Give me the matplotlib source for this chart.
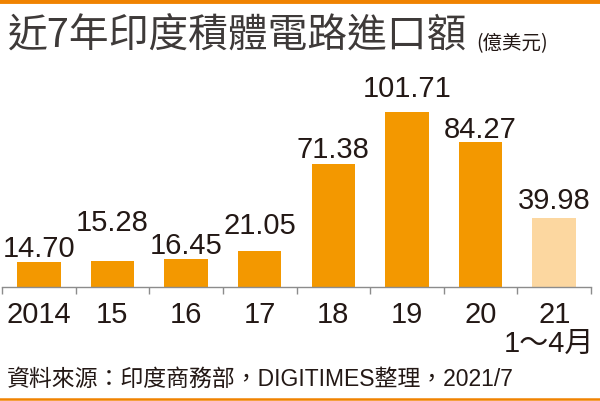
import matplotlib.pyplot as plt
from matplotlib.lines import Line2D

years = ["2014", "15", "16", "17", "18", "19", "20", "21"]
values = [14.70, 15.28, 16.45, 21.05, 71.38, 101.71, 84.27, 39.98]
sub_label = "1～4月"

title = "近7年印度積體電路進口額"
unit = "(億美元)"
source = "資料來源：印度商務部，DIGITIMES整理，2021/7"

ORANGE = "#F39800"
LIGHT = "#FCD7A0"
LINE = "#F08300"
TXT = "#231815"

# label gap above each bar, in points (staggered like the original)
label_gap = [4, 22, 4, 13, 5, 11, 3, 7]

latin = ["Liberation Sans", "Noto Sans CJK TC"]
cjk = ["Noto Sans CJK TC", "DejaVu Sans"]

fig = plt.figure(figsize=(6, 4.02), dpi=100)
ax = fig.add_axes([2 / 600, 0.2836, 589 / 600, 0.515])

colors = [ORANGE] * (len(values) - 1) + [LIGHT]
x = range(len(values))
ax.bar(x, values, width=0.59, color=colors, zorder=2)

for i, v in enumerate(values):
    ax.annotate(f"{v:.2f}", (i, v), xytext=(0, label_gap[i]), textcoords="offset points",
                ha="center", va="baseline", fontsize=21, family=latin, color=TXT)

ax.set_xlim(-0.5, len(values) - 0.5)
ax.set_ylim(0, 120)
ax.set_yticks([])
for s in ["top", "right", "left"]:
    ax.spines[s].set_visible(False)
ax.spines["bottom"].set_color("#8c8c8c")
ax.spines["bottom"].set_linewidth(1.0)

ax.set_xticks([i - 0.5 for i in range(len(values) + 1)])
ax.set_xticklabels([])
ax.tick_params(axis="x", length=5, width=1.0, color="#8c8c8c", direction="out")

for i, lab in enumerate(years):
    ax.text(i, -0.065, lab, transform=ax.get_xaxis_transform(), ha="center", va="top",
            fontsize=21, family=latin, color=TXT)
ax.text(len(values) - 1.07, -0.2, sub_label, transform=ax.get_xaxis_transform(),
        ha="center", va="top", fontsize=21, family=latin, color=TXT)

# title and source
fig.text(8 / 600, 1 - 37 / 402, title, ha="left", va="center", fontsize=28.6,
         fontweight="medium", family=cjk, color="#3E3A39")
fig.text(476 / 600, 1 - 44 / 402, unit, ha="left", va="center", fontsize=14,
         family=cjk, color=TXT)
fig.text(7 / 600, 1 - 379 / 402, source, ha="left", va="center", fontsize=16.5,
         family=latin, color=TXT)

fig.add_artist(Line2D([0, 1], [1 - 2 / 402, 1 - 2 / 402], transform=fig.transFigure,
                      color=LINE, linewidth=3.5))
fig.add_artist(Line2D([0, 1], [1 - 400 / 402, 1 - 400 / 402], transform=fig.transFigure,
                      color=LINE, linewidth=1.8))

fig.savefig("out.png", dpi=100)
